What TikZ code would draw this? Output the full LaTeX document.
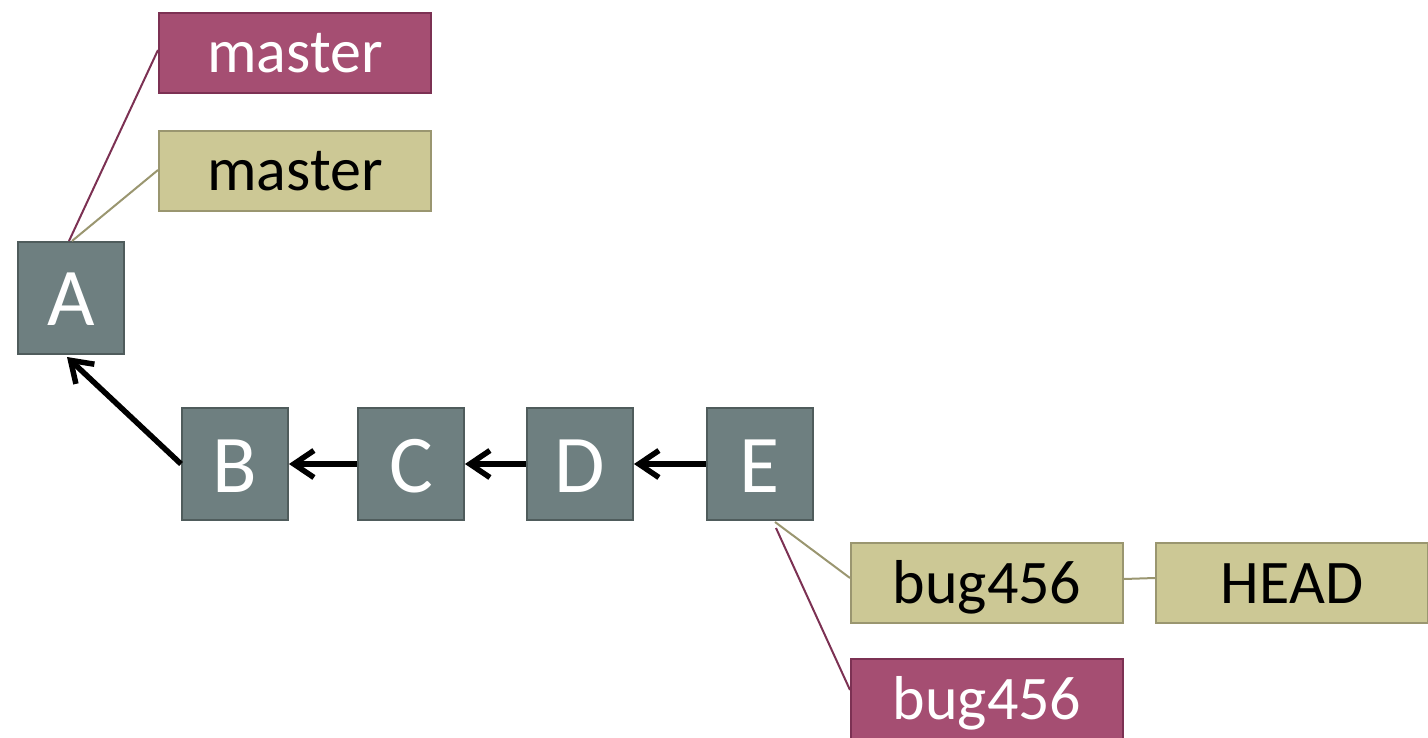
\documentclass[tikz,border=0pt]{standalone}
\usepackage{fontspec}
\setmainfont{Carlito}
\usetikzlibrary{arrows.meta,calc}
\definecolor{redfill}{HTML}{A54E72}
\definecolor{reddraw}{HTML}{7C3153}
\definecolor{tanfill}{HTML}{CCC895}
\definecolor{tandraw}{HTML}{9A9670}
\definecolor{grayfill}{HTML}{6E7F80}
\definecolor{graydraw}{HTML}{4F5C5C}
\tikzset{
  commit/.style={draw=graydraw, fill=grayfill, line width=2pt, minimum width=106pt, minimum height=112pt,
    inner sep=0pt, text height=56pt, text depth=0pt, text=white, font=\fontsize{82}{90}\selectfont},
  redlabel/.style={draw=reddraw, fill=redfill, line width=2pt, minimum width=272pt, minimum height=80pt,
    inner sep=0pt, text height=40pt, text depth=0pt, text=white, font=\fontsize{62}{70}\selectfont},
  tanlabel/.style={draw=tandraw, fill=tanfill, line width=2pt, minimum width=272pt, minimum height=80pt,
    inner sep=0pt, text height=40pt, text depth=0pt, text=black, font=\fontsize{62}{70}\selectfont},
  parent/.style={line width=5.5pt, -{Straight Barb[length=20pt,width=27pt]}},
  redlink/.style={draw=reddraw, line width=2pt},
  tanlink/.style={draw=tandraw, line width=2pt}
}
\begin{document}
\begin{tikzpicture}[x=1pt,y=-1pt]
\useasboundingbox (0,0) rectangle (1428,738);
\begin{scope}
\clip (0,0) rectangle (1428,738);
\node[commit] (A) at (71,298) {A};
\node[commit] (B) at (235,464) {B};
\node[commit] (C) at (411,464) {C};
\node[commit] (D) at (580,464) {D};
\node[commit] (E) at (760,464) {E};
\node[redlabel] (mr) at (295,53) {master};
\node[tanlabel] (mt) at (295,171) {master};
\node[tanlabel] (bt) at (987,583) {bug456};
\node[tanlabel] (hd) at (1292,583) {HEAD};
\node[redlabel] (br) at (987,699) {bug456};
\draw[parent] (B.west) -- ($(A.south)+(-4,2)$);
\draw[parent] (C.west) -- (B.east);
\draw[parent] (D.west) -- (C.east);
\draw[parent] (E.west) -- (D.east);
\draw[redlink] ($(A.north)+(-2,0)$) -- ($(mr.west)+(0,-3)$);
\draw[tanlink] ($(A.north)+(1,0)$) -- ($(mt.west)+(0,-1)$);
\coordinate (e1) at ($(E.south)+(15,1)$);
\coordinate (e2) at ($(E.south)+(16,7)$);
\draw[tanlink] (e1) -- ($(bt.west)+(0,-5)$);
\draw[redlink] (e2) -- ($(br.west)+(0,-9)$);
\draw[tanlink] ($(bt.east)+(0,-4)$) -- ($(hd.west)+(0,-5)$);
\end{scope}
\end{tikzpicture}
\end{document}
